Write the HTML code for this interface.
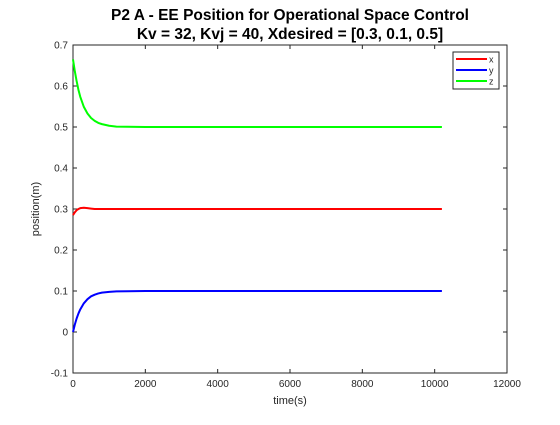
<!DOCTYPE html>
<html><head><meta charset="utf-8"><style>
html,body{margin:0;padding:0;background:#fff;}
svg text{font-family:"Liberation Sans",sans-serif;}
</style></head><body>
<svg id="chart" width="560" height="420" xmlns="http://www.w3.org/2000/svg">
<rect x="0" y="0" width="560" height="420" fill="#fff"/>
<text x="290" y="20" text-anchor="middle" font-size="15.5" font-weight="bold" fill="#000">P2 A - EE Position for Operational Space Control</text>
<text x="290" y="39" text-anchor="middle" font-size="15.5" font-weight="bold" fill="#000">Kv = 32, Kvj = 40, Xdesired = [0.3, 0.1, 0.5]</text>
<g id="plot"></g>
<text x="290" y="404" text-anchor="middle" font-size="11" fill="#262626">time(s)</text>
<text transform="translate(39,209) rotate(-90)" text-anchor="middle" font-size="11" fill="#262626">position(m)</text>
</svg>
<script>
const times = [0,50,100,150,200,300,400,500,600,700,800,1000,1200,1500,2000,3000,10200];
const xVals = [0.285,0.292,0.297,0.300,0.302,0.303,0.302,0.301,0.300,0.300,0.300,0.300,0.300,0.300,0.300,0.300,0.300];
const yVals = [0.000,0.018,0.033,0.045,0.055,0.070,0.080,0.087,0.091,0.094,0.096,0.098,0.099,0.0995,0.100,0.100,0.100];
const zVals = [0.665,0.636,0.612,0.591,0.574,0.549,0.533,0.522,0.515,0.510,0.507,0.503,0.501,0.5005,0.500,0.500,0.500];
const xTicks = [0,2000,4000,6000,8000,10000,12000];
const yTicks = [-0.1,0,0.1,0.2,0.3,0.4,0.5,0.6,0.7];
const seriesNames = ['x','y','z'];
const seriesColors = ['#ff0000','#0000ff','#00ff00'];

const L=73,R=507,T=45,B=373;
const sx=v=>L+(v-0)/12000*(R-L);
const sy=v=>B-(v+0.1)/0.8*(B-T);
const NS='http://www.w3.org/2000/svg';
const plot=document.getElementById('plot');
function mk(tag,attrs,parent){const e=document.createElementNS(NS,tag);for(const k in attrs)e.setAttribute(k,attrs[k]);(parent||plot).appendChild(e);return e;}

const box=mk('rect',{x:L,y:T,width:R-L,height:B-T,fill:'#fff',stroke:'#262626','stroke-width':1});



xTicks.forEach(t=>{
  const x=sx(t);
  const tk=mk('path',{d:`M${x} ${B}V${B-4}M${x} ${T}V${T+4}`,stroke:'#262626','stroke-width':1});
  
  
  const lb=mk('text',{x:x,y:B+14,'text-anchor':'middle','font-size':10,fill:'#262626'});
  lb.textContent=t;
  
  
});
yTicks.forEach(t=>{
  const y=sy(t);
  const tk=mk('path',{d:`M${L} ${y}H${L+4}M${R} ${y}H${R-4}`,stroke:'#262626','stroke-width':1});
  
  
  const lb=mk('text',{x:L-5,y:y+3.5,'text-anchor':'end','font-size':10,fill:'#262626'});
  lb.textContent=(Math.round(t*10)/10).toString();
  
  
});

[xVals,yVals,zVals].forEach((vals,i)=>{
  const d=times.map((t,j)=>(j?'L':'M')+sx(t).toFixed(2)+' '+sy(vals[j]).toFixed(2)).join('');
  const p=mk('path',{d:d,fill:'none',stroke:seriesColors[i],'stroke-width':2,'stroke-linejoin':'round'});
  
  
});

const lg=mk('g',{});


mk('rect',{x:453,y:52,width:46,height:37,fill:'#fff',stroke:'#262626','stroke-width':1},lg);
seriesNames.forEach((n,i)=>{
  const y=59+i*11;
  const ln=mk('line',{x1:456,x2:487,y1:y,y2:y,stroke:seriesColors[i],'stroke-width':2},lg);
  
  
  const tx=mk('text',{x:489,y:y+3.5,'font-size':9,fill:'#262626'},lg);
  tx.textContent=n;
  
  
});
</script>
</body></html>
